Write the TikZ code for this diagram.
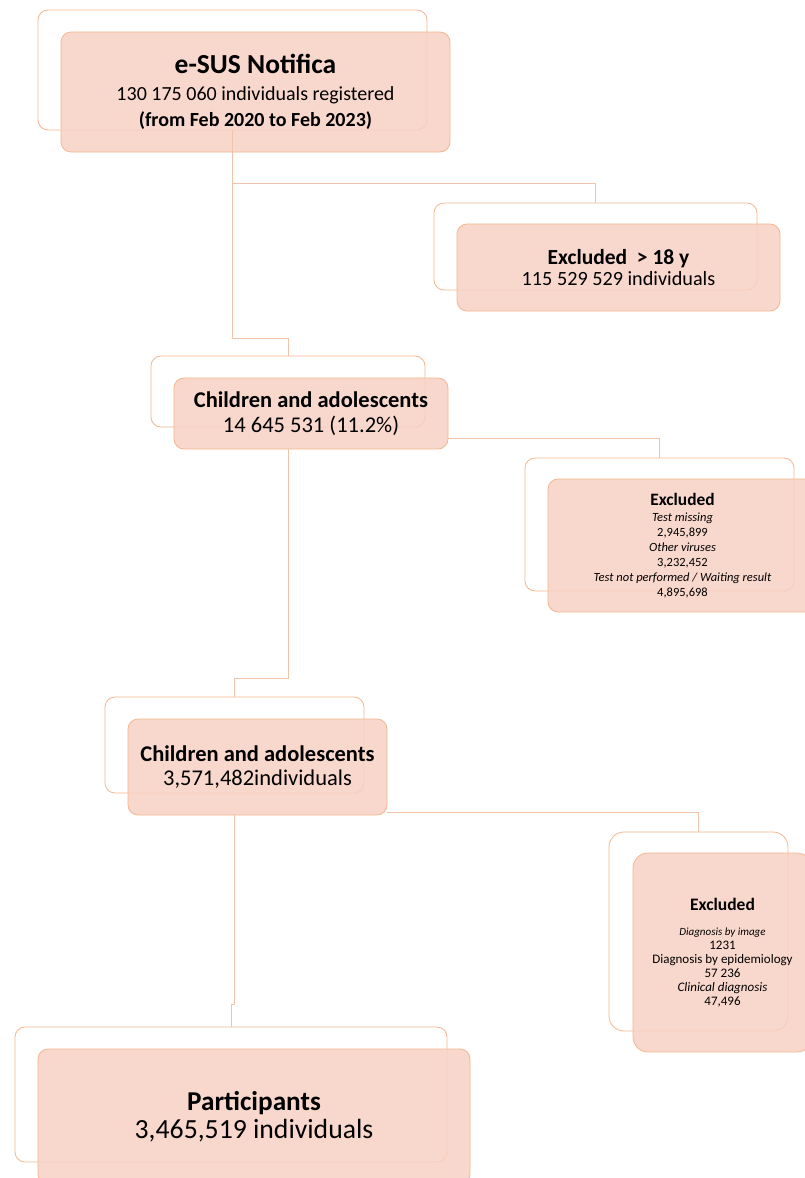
\documentclass[tikz,border=0pt]{standalone}
\usepackage{fontspec}
\setmainfont{Carlito}
\usetikzlibrary{positioning}
\definecolor{boxfill}{RGB}{247,209,195}
\definecolor{boxline}{RGB}{244,181,143}
\definecolor{linkline}{RGB}{240,196,170}

\begin{document}
\begin{tikzpicture}[x=1pt, y=-1pt,
	backbox/.style={draw=boxline, line width=0.8pt, rounded corners=10pt, inner sep=0pt},
	frontbox/.style={draw=boxline, line width=0.8pt, fill=boxfill, fill opacity=0.85, text opacity=1, rounded corners=10pt, align=center, inner sep=0pt},
	link/.style={draw=linkline, line width=0.8pt}]
		\useasboundingbox (0,0) rectangle (805,1178);
		% outline boxes behind
		\node[backbox, minimum width=389, minimum height=120] (esusback) at (232.5,70) {};
		\node[backbox, minimum width=323, minimum height=87] (adultsback) at (595.5,246.5) {};
		\node[backbox, minimum width=274, minimum height=71] (kidsback) at (288,391.5) {};
		\node[backbox, minimum width=269, minimum height=133] (notestback) at (659.5,524.5) {};
		\node[backbox, minimum width=259, minimum height=96] (testedback) at (234.5,745) {};
		\node[backbox, minimum width=179, minimum height=199, rounded corners=15pt] (nolabback) at (698.5,931.5) {};
		\node[backbox, minimum width=432, minimum height=135] (partback) at (231,1094.5) {};
		% filled boxes in front
		\node[frontbox, minimum width=389, minimum height=120, font=\fontsize{20}{26.5}\selectfont] (esus) at ([shift={(23,22)}]esusback.center)
			{{\fontsize{27.5}{26.5}\selectfont\bfseries e-SUS Notifica}\\ 130 175 060 individuals registered\\ \textbf{(from Feb 2020 to Feb 2023)}};
		\node[frontbox, minimum width=323, minimum height=87, font=\fontsize{20.2}{21}\selectfont] (adults) at ([shift={(23,21)}]adultsback.center)
			{{\fontsize{21.5}{21}\selectfont\bfseries Excluded\ \ > 18 y}\\ 115 529 529 individuals};
		\node[frontbox, minimum width=274, minimum height=71, font=\fontsize{22.5}{24.5}\selectfont] (kids) at ([shift={(23,22)}]kidsback.center)
			{\textbf{Children and adolescents}\\ 14 645 531 (11.2\%)};
		\node[frontbox, minimum width=269, minimum height=133, font=\fontsize{12.5}{15}\selectfont] (notest) at ([shift={(23,21)}]notestback.center)
			{{\fontsize{17.4}{15}\selectfont\bfseries Excluded}\\[1pt] \textit{Test missing}\\ 2,945,899\\ \textit{Other viruses}\\ 3,232,452\\
			\textit{Test not performed / Waiting result}\\ 4,895,698};
		\node[frontbox, minimum width=259, minimum height=96, font=\fontsize{22.5}{23.5}\selectfont] (tested) at ([shift={(23,22)}]testedback.center)
			{\textbf{Children and adolescents}\\ 3,571,482individuals};
		\node[frontbox, minimum width=179, minimum height=199, rounded corners=15pt, font=\fontsize{13}{14}\selectfont] (nolab) at ([shift={(24,21)}]nolabback.center)
			{{\fontsize{17.5}{14}\selectfont\bfseries Excluded}\\[11pt] {\fontsize{11}{14}\selectfont\itshape Diagnosis by image}\\ 1231\\
			Diagnosis by epidemiology\\ 57 236\\ \textit{Clinical diagnosis}\\ 47,496};
		\node[frontbox, minimum width=432, minimum height=135, font=\fontsize{27.7}{28}\selectfont] (part) at ([shift={(23,22)}]partback.center)
			{{\fontsize{27.2}{28}\selectfont\bfseries Participants}\\ 3,465,519 individuals};
		% connectors
		\coordinate (j1) at ([shift={(0,53)}]esusback.south);
		\coordinate (j2) at ([shift={(0,11)}]kidsback.south);
		\coordinate (j3) at ([shift={(0,19)}]testedback.south);
		\draw[link] (esusback.south) -- ++(0,208) -| (kidsback.north);
		\draw[link] (j1) -| (adultsback.north);
		\draw[link] (kidsback.south |- kids.south) -- ++(0,229) -| (testedback.north);
		\draw[link] (kids.east |- j2) -| (notestback.north);
		\draw[link] (testedback.south |- tested.south) -- ++(0,189) -| (partback.north);
		\draw[link] (tested.east |- j3) -| (nolabback.north);
	\end{tikzpicture}
\end{document}
